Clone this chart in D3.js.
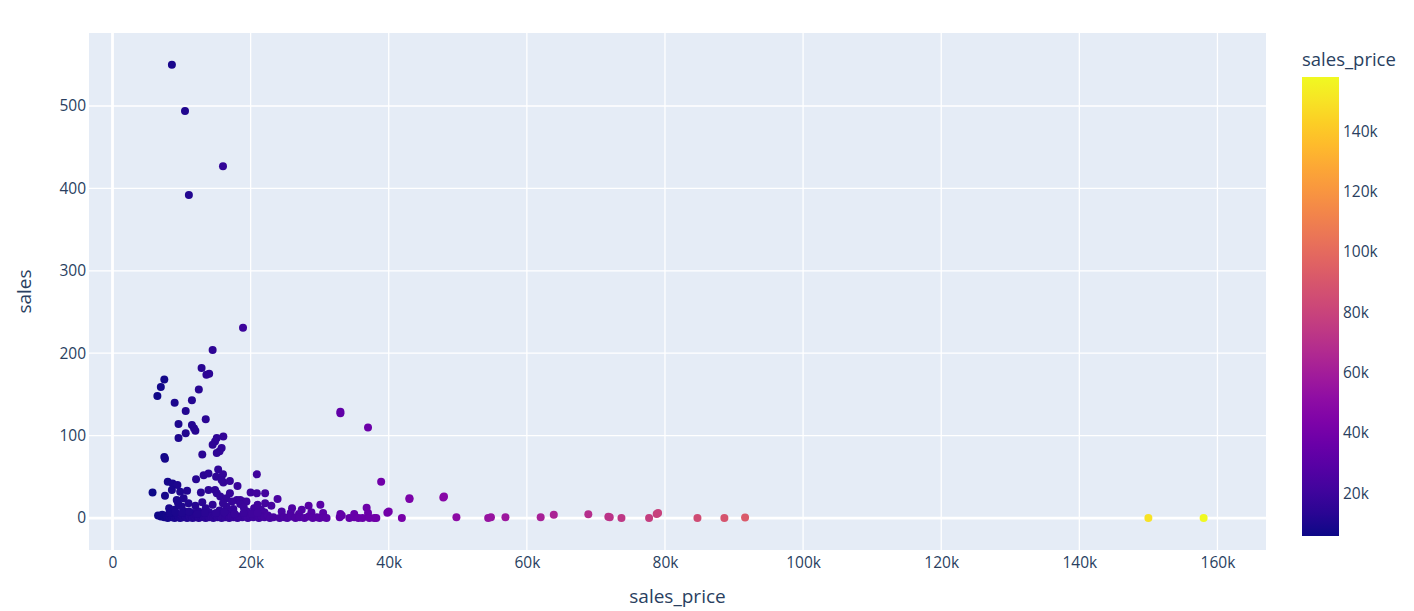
<!DOCTYPE html>
<html>
<head>
<meta charset="utf-8">
<script src="https://cdn.jsdelivr.net/npm/d3@7"></script>
<style>
  html, body { margin: 0; padding: 0; background: #ffffff; }
  svg { display: block; font-family: "Open Sans", verdana, arial, sans-serif; }
</style>
</head>
<body>
<svg id="chart" width="1414" height="611"></svg>
<script>
// ---- data ----
const salesPrice = [
  8600, 10500, 16000, 11060, 18900, 14500, 12900, 13600, 14000, 7500, 7000, 6500, 12500, 11500, 9000,
  10600, 13500, 9560, 11500, 11800, 12000, 10600, 9560, 16050, 15100, 14850, 14500, 15800, 15500, 15100,
  13000, 7500, 7600, 15300, 20900, 13200, 13900, 16000, 15000, 12100, 8000, 8700, 9400, 16050, 17000,
  18100, 15800, 38900, 5800, 7600, 8600, 9800, 10800, 12800, 13900, 14850, 17000, 15100, 18000, 18900,
  20000, 20900, 22100, 23900, 33000, 33000, 37000, 43000, 43000, 47900, 48000, 9300, 10300, 15600, 16500,
  17300, 18500, 19400,
  // mid band
  23000, 22100, 26000, 27400, 28400, 30100, 36800, 39800, 40000, 12000, 8200, 9000, 10000, 11000, 12500,
  13500, 14500, 15500, 16500, 17500, 18500, 19500, 20500, 21500, 9500, 10500, 11800, 13000, 14000, 16000,
  17000, 19000, 21000, 22000, 24500, 25800, 27000, 28800, 30500, 33000, 35000, 37000,
  // bottom band
  6600, 7000, 7200, 7500, 7800, 8000, 8200, 8400, 8600, 8800, 9000, 9200, 9400, 9600, 9800, 10000, 10200,
  10400, 10600, 10800, 11000, 11200, 11400, 11600, 11800, 12000, 12200, 12500, 12800, 13000, 13200, 13500,
  13800, 14000, 14300, 14600, 14900, 15200, 15500, 15800, 16000, 16300, 16600, 16900, 17200, 17500, 17800,
  18100, 18400, 18800, 19200, 19600, 20000, 20400, 20800, 21200, 21600, 22000, 22500, 22800, 23300, 24200,
  24900, 25300, 25900, 26500, 27100, 27800, 28400, 29000, 29600, 30000, 30600, 31000, 32900, 33200, 34300,
  35000, 35600, 36200, 37200, 37900, 38200,
  8300, 9100, 10100, 11100, 12300, 13400, 15000, 16200, 17700, 19000, 20200, 21000,
  // high-priced items
  41900, 49800, 54400, 54800, 56900, 62000, 63900, 68900, 71800, 72000, 73700, 77700, 78800, 79000,
  84700, 88600, 91600, 150000, 158000
];
const sales = [
  550, 494, 427, 392, 231, 204, 182, 174, 175, 168, 159, 148, 156, 143, 140,
  130, 120, 114, 113, 109, 106, 103, 97, 99, 97, 93, 89, 85, 81, 79,
  77, 74, 72, 59, 53, 52, 54, 53, 50, 47, 44, 42, 40, 43, 45,
  39, 46, 44, 31, 27, 34, 32, 33, 31, 34, 34, 30, 30, 22, 20,
  31, 30, 30, 23, 127, 129, 110, 23, 24, 25, 26, 22, 24, 26, 24,
  20, 22, 20,
  15, 18, 12, 10, 15, 16, 12.5, 6.5, 8, 15, 12, 10, 14, 18, 8,
  12, 16, 9, 14, 11, 17, 8, 12, 10, 18, 8, 6, 19, 7, 18,
  7, 13, 16, 7, 8, 6, 5, 7, 6, 5, 5, 6,
  3, 2, 4, 1, 3, 0, 2, 5, 1, 3, 0, 2, 4, 1, 0, 3, 1,
  5, 2, 0, 3, 1, 4, 0, 2, 1, 3, 0, 2, 4, 1, 0,
  3, 1, 2, 0, 4, 1, 3, 0, 2, 1, 4, 0, 2, 1, 3,
  0, 2, 1, 3, 0, 2, 1, 4, 0, 2, 1, 3, 0, 1, 0,
  1, 0, 2, 0, 1, 0, 2, 0, 1, 0, 1, 0, 1, 3, 0,
  1, 0, 0, 0, 0, 0,
  6, 7, 6, 8, 5, 6, 6, 7, 5, 6, 5, 6,
  0, 1, 0, 1, 1, 1, 4, 4.5, 1.5, 1, 0, 0, 5, 6,
  0, 0, 0.5, 0, 0
];
const xTicks = [0, 20000, 40000, 60000, 80000, 100000, 120000, 140000, 160000];
const yTicks = [0, 100, 200, 300, 400, 500];
const colorTicks = [20000, 40000, 60000, 80000, 100000, 120000, 140000];
const xTitle = "sales_price";
const yTitle = "sales";
const colorTitle = "sales_price";

// ---- layout ----
const svg = d3.select("#chart");
const plot = { left: 89, right: 1266, top: 33, bottom: 550 };
const textColor = "#2a3f5f";
const fontFam = '"Open Sans", verdana, arial, sans-serif';

const x = d3.scaleLinear().domain([-3403, 167030]).range([plot.left, plot.right]);
const y = d3.scaleLinear().domain([-38.8, 588.6]).range([plot.bottom, plot.top]);
const cmin = d3.min(salesPrice), cmax = d3.max(salesPrice);
const color = d3.scaleSequential(d3.interpolatePlasma).domain([cmin, cmax]);
const fmtK = v => v === 0 ? "0" : d3.format("~s")(v);

// background
svg.append("rect")
  .attr("x", plot.left).attr("y", plot.top)
  .attr("width", plot.right - plot.left).attr("height", plot.bottom - plot.top)
  .attr("fill", "#e5ecf6");

// grid lines
const grid = svg.append("g");
grid.selectAll(".gx").data(xTicks.filter(d => d !== 0)).enter().append("line")
  .attr("x1", d => x(d)).attr("x2", d => x(d))
  .attr("y1", plot.top).attr("y2", plot.bottom)
  .attr("stroke", "#ffffff").attr("stroke-width", 1.3);
grid.selectAll(".gy").data(yTicks.filter(d => d !== 0)).enter().append("line")
  .attr("y1", d => y(d)).attr("y2", d => y(d))
  .attr("x1", plot.left).attr("x2", plot.right)
  .attr("stroke", "#ffffff").attr("stroke-width", 1.3);
// zero lines
grid.append("line")
  .attr("x1", x(0)).attr("x2", x(0)).attr("y1", plot.top).attr("y2", plot.bottom)
  .attr("stroke", "#ffffff").attr("stroke-width", 2.8);
grid.append("line")
  .attr("y1", y(0)).attr("y2", y(0)).attr("x1", plot.left).attr("x2", plot.right)
  .attr("stroke", "#ffffff").attr("stroke-width", 2.8);

// axes (labels only, like plotly)
const xAxis = d3.axisBottom(x).tickValues(xTicks).tickFormat(fmtK).tickSize(0).tickPadding(7);
const gx = svg.append("g").attr("transform", `translate(0,${plot.bottom})`).call(xAxis);
gx.select(".domain").remove();
gx.selectAll("text").attr("fill", textColor).style("font-size", "15.5px").style("font-family", fontFam);

const yAxis = d3.axisLeft(y).tickValues(yTicks).tickFormat(d3.format("d")).tickSize(0).tickPadding(3);
const gy = svg.append("g").attr("transform", `translate(${plot.left},0)`).call(yAxis);
gy.select(".domain").remove();
gy.selectAll("text").attr("fill", textColor).style("font-size", "15.5px").style("font-family", fontFam);

// points
const pts = salesPrice.map((p, i) => ({ p, s: sales[i] }));
svg.append("g").selectAll("circle").data(pts).enter().append("circle")
  .attr("cx", d => x(d.p)).attr("cy", d => y(d.s)).attr("r", 4)
  .attr("fill", d => color(d.p));

// axis titles
svg.append("text").attr("x", (plot.left + plot.right) / 2).attr("y", 603)
  .attr("text-anchor", "middle").attr("fill", textColor).style("font-size", "19px").text(xTitle);
svg.append("text").attr("transform", `translate(31,${(plot.top + plot.bottom) / 2}) rotate(-90)`)
  .attr("text-anchor", "middle").attr("fill", textColor).style("font-size", "19px").text(yTitle);

// colorbar
const cb = { x: 1302, w: 37, top: 77, bottom: 536 };
const cy = d3.scaleLinear().domain([cmin, cmax]).range([cb.bottom, cb.top]);
const defs = svg.append("defs");
const grad = defs.append("linearGradient").attr("id", "cbgrad")
  .attr("x1", 0).attr("y1", 1).attr("x2", 0).attr("y2", 0);
d3.range(0, 1.0001, 0.05).forEach(t => {
  grad.append("stop").attr("offset", t).attr("stop-color", d3.interpolatePlasma(t));
});
svg.append("rect").attr("x", cb.x).attr("y", cb.top).attr("width", cb.w)
  .attr("height", cb.bottom - cb.top).attr("fill", "url(#cbgrad)");
const cAxis = d3.axisRight(cy).tickValues(colorTicks).tickFormat(fmtK).tickSize(0).tickPadding(4);
const gc = svg.append("g").attr("transform", `translate(${cb.x + cb.w},0)`).call(cAxis);
gc.select(".domain").remove();
gc.selectAll("text").attr("fill", textColor).style("font-size", "15.5px").style("font-family", fontFam);
svg.append("text").attr("x", cb.x).attr("y", 66).attr("fill", textColor)
  .style("font-size", "18.5px").style("font-family", fontFam).text(colorTitle);
</script>
</body>
</html>
